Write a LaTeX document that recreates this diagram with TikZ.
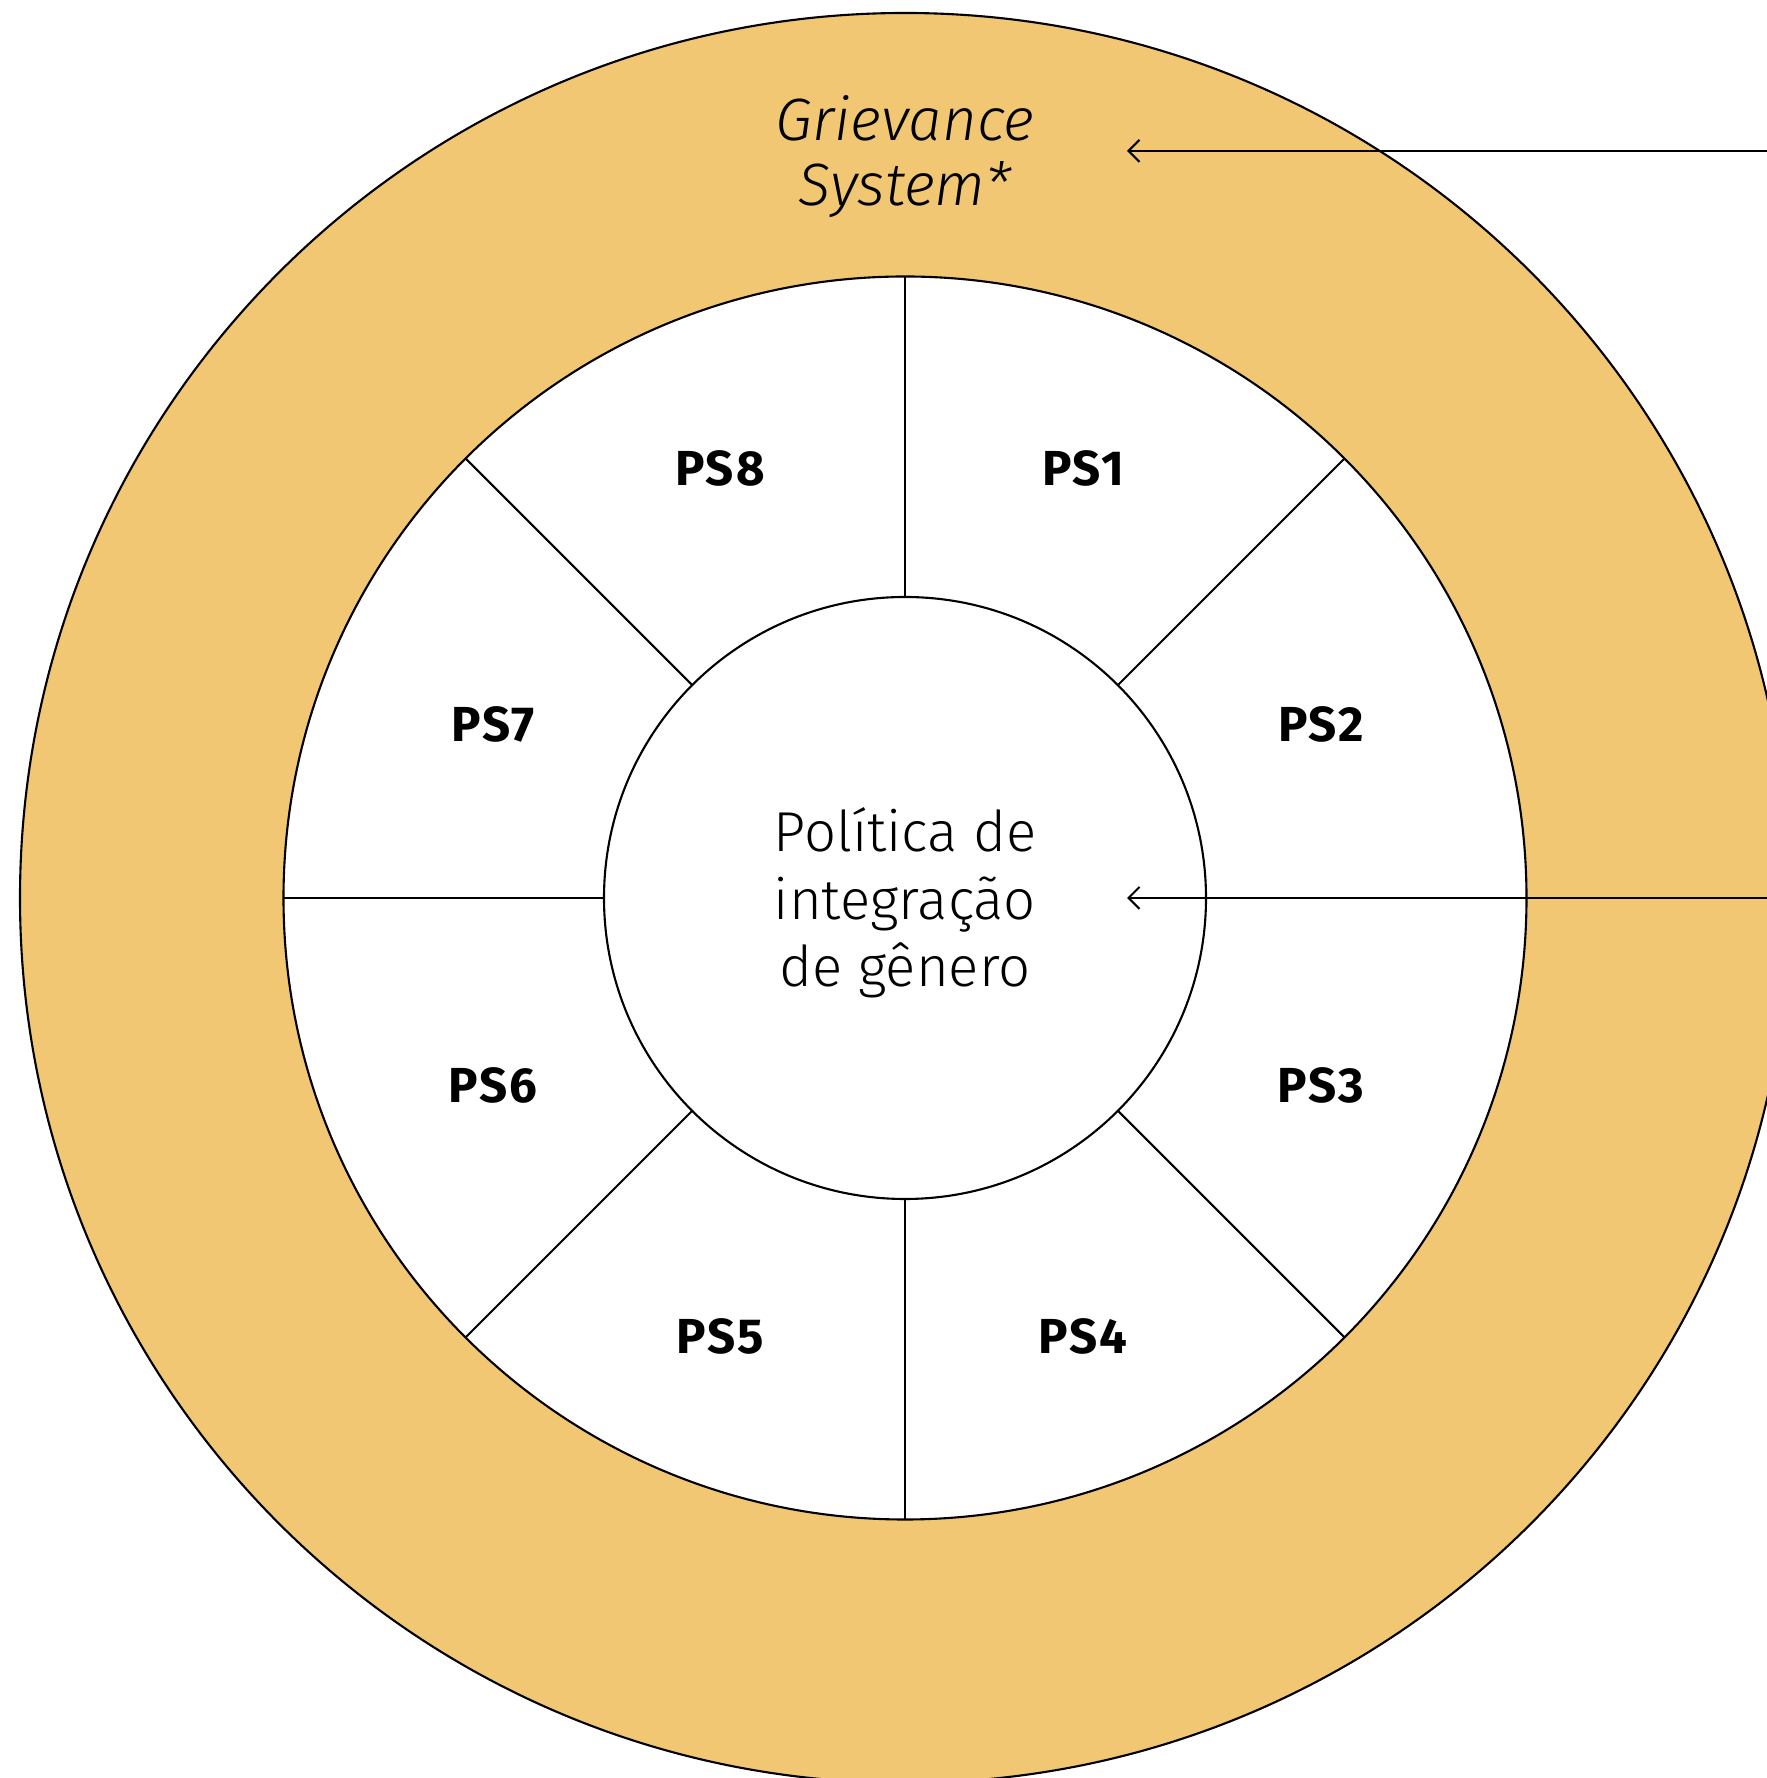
\documentclass[tikz,border=0pt]{standalone}
\usepackage{fontspec}
\setmainfont{Fira Sans}
\newfontfamily\lightfont{Fira Sans Light}
\newfontfamily\psfont[LetterSpace=4]{Fira Sans}
\usepackage{tikz}
\usetikzlibrary{arrows.meta}

\definecolor{ochre}{RGB}{241,199,116}

\tikzset{
	ring/.style={draw, circle, inner sep=0pt, outer sep=0pt, line width=0.6pt},
	pslabel/.style={font=\psfont\fontsize{14}{16}\selectfont\bfseries},
	pointer/.style={line width=0.6pt, {Straight Barb[length=1.1mm, width=2.2mm]}-}
}

\begin{document}
\begin{tikzpicture}
	\useasboundingbox (0,0) rectangle (17.67,17.78);
	\clip (0,0) rectangle (17.67,17.78);

	\node (outer) at (9.05,8.80) [ring, fill=ochre, minimum size=17.70cm] {};
	\node (wheel) at (9.05,8.80) [ring, fill=white, minimum size=12.43cm] {};
	\node (hub) at (9.05,8.80) [ring, fill=white, minimum size=6.02cm] {};

	% spokes between hub and wheel
	\foreach \a in {0,45,...,315}
		\draw[line width=0.6pt] (hub.\a) -- (wheel.\a);

	\node (pol) at (9.05,8.75) [align=center, font=\lightfont\fontsize{16}{19.2}\selectfont] {Política de\\integração\\de gênero};
	\node (griev) at (9.05,16.21) [align=center, font=\lightfont\itshape\fontsize{17}{18.5}\selectfont] {Grievance\\System*};

	\node (ps1) at (10.83,13.10) [pslabel] {PS1};
	\node (ps2) at (13.21,10.54) [pslabel] {PS2};
	\node (ps3) at (13.21,6.93) [pslabel] {PS3};
	\node (ps4) at (10.83,4.42) [pslabel] {PS4};
	\node (ps5) at (7.20,4.42) [pslabel] {PS5};
	\node (ps6) at (4.93,6.93) [pslabel] {PS6};
	\node (ps7) at (4.93,10.54) [pslabel] {PS7};
	\node (ps8) at (7.20,13.10) [pslabel] {PS8};

	\coordinate (tipgs) at (11.27,16.27);
	\coordinate (srcgs) at (17.67,16.27);
	\coordinate (tippol) at (11.27,8.80);
	\coordinate (srcpol) at (17.67,8.80);
	\draw[pointer] (tipgs) -- (srcgs);
	\draw[pointer] (tippol) -- (srcpol);
\end{tikzpicture}
\end{document}
